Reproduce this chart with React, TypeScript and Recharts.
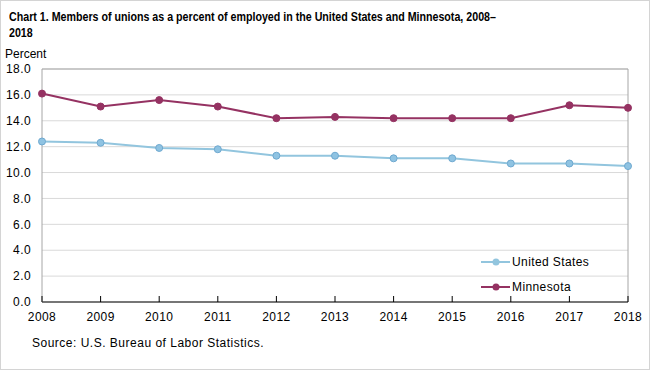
import React from "react";
import {
  LineChart,
  Line,
  XAxis,
  YAxis,
  CartesianGrid,
  Legend,
  ReferenceLine,
} from "recharts";

// Union membership rate, percent of employed
const years = [2008, 2009, 2010, 2011, 2012, 2013, 2014, 2015, 2016, 2017, 2018];
const unitedStates = [12.4, 12.3, 11.9, 11.8, 11.3, 11.3, 11.1, 11.1, 10.7, 10.7, 10.5];
const minnesota = [16.1, 15.1, 15.6, 15.1, 14.2, 14.3, 14.2, 14.2, 14.2, 15.2, 15.0];
const yTicks = [0, 2, 4, 6, 8, 10, 12, 14, 16, 18];
const seriesNames = ["United States", "Minnesota"];

const US_COLOR = "#92c5de";
const MN_COLOR = "#953262";
const FONT = "'Liberation Sans', Arial, sans-serif";

const data = years.map((year, i) => ({
  year,
  us: unitedStates[i],
  mn: minnesota[i],
}));

// x ticks: short mark pointing up into the plot, label below
const YearTick = (props: any) => {
  const { x, y, payload } = props;
  return (
    <g>
      <line x1={x} x2={x} y1={y - 6} y2={y} stroke="#000" strokeWidth={1} />
      <text
        x={x}
        y={y + 19}
        textAnchor="middle"
        fontSize={12}
        fill="#000"
        fontFamily={FONT}
        letterSpacing={0.4}
      >
        {payload.value}
      </text>
    </g>
  );
};

const LegendContent = (props: any) => {
  const { payload } = props;
  return (
    <div>
      {payload.map((entry: any) => (
        <div
          key={entry.value}
          style={{ display: "flex", alignItems: "center", height: 25, fontFamily: FONT, fontSize: 12 }}
        >
          <svg width={30} height={10} style={{ marginRight: 1 }}>
            <line x1={0} x2={29} y1={5} y2={5} stroke={entry.color} strokeWidth={2} />
            <circle cx={15} cy={5} r={3.5} fill={entry.color} />
          </svg>
          <span style={{ color: "#000", letterSpacing: 0.4 }}>{entry.value}</span>
        </div>
      ))}
    </div>
  );
};

export default function App() {
  return (
    <div
      style={{
        position: "absolute",
        left: 0,
        top: 0,
        width: 650,
        height: 370,
        boxSizing: "border-box",
        border: "1px solid #d4d4d4",
        background: "#fff",
        fontFamily: FONT,
      }}
    >
      <div
        style={{
          position: "absolute",
          left: 8,
          top: 8,
          whiteSpace: "nowrap",
          fontSize: 13,
          fontWeight: "bold",
          lineHeight: "16px",
          color: "#000",
          transform: "scaleX(0.82)",
          transformOrigin: "left top",
        }}
      >
        Chart 1. Members of unions as a percent of employed in the United States and Minnesota, 2008–
        <br />
        2018
      </div>
      <div style={{ position: "absolute", left: 4, top: 46, fontSize: 12, color: "#000" }}>Percent</div>
      <LineChart
        width={648}
        height={368}
        data={data}
        margin={{ top: 68, right: 21, bottom: 47, left: 7 }}
      >
        <CartesianGrid vertical={false} stroke="#d9d9d9" />
        <XAxis
          dataKey="year"
          type="number"
          domain={[2008, 2018]}
          ticks={years}
          interval={0}
          axisLine={{ stroke: "#000" }}
          tickLine={false}
          tickSize={0}
          tickMargin={0}
          height={20}
          tick={<YearTick />}
        />
        <YAxis
          domain={[0, 18]}
          ticks={yTicks}
          interval={0}
          width={34}
          tickLine={false}
          tickSize={0}
          tickMargin={11}
          axisLine={{ stroke: "#a6a6a6" }}
          tickFormatter={(v: number) => v.toFixed(1)}
          tick={{ fontSize: 12, fill: "#000", fontFamily: FONT, letterSpacing: 0.4 }}
        />
        <ReferenceLine y={18} stroke="#a6a6a6" />
        <ReferenceLine x={2018} stroke="#a6a6a6" />
        <Legend
          layout="vertical"
          align="center"
          verticalAlign="middle"
          itemSorter={(item: any) => seriesNames.indexOf(item.value)}
          content={<LegendContent />}
          wrapperStyle={{ left: 480, top: 248, width: 140 }}
        />
        <Line
          dataKey="us"
          name={seriesNames[0]}
          stroke={US_COLOR}
          strokeWidth={2}
          dot={{ r: 3.5, fill: "#8fc3e2", stroke: "#6fa9d0", strokeWidth: 1 }}
          isAnimationActive={false}
        />
        <Line
          dataKey="mn"
          name={seriesNames[1]}
          stroke={MN_COLOR}
          strokeWidth={2}
          dot={{ r: 3.5, fill: MN_COLOR, stroke: MN_COLOR, strokeWidth: 1 }}
          isAnimationActive={false}
        />
      </LineChart>
      <div style={{ position: "absolute", left: 31, top: 335, fontSize: 12, letterSpacing: 0.5, color: "#000" }}>
        Source: U.S. Bureau of Labor Statistics.
      </div>
    </div>
  );
}
